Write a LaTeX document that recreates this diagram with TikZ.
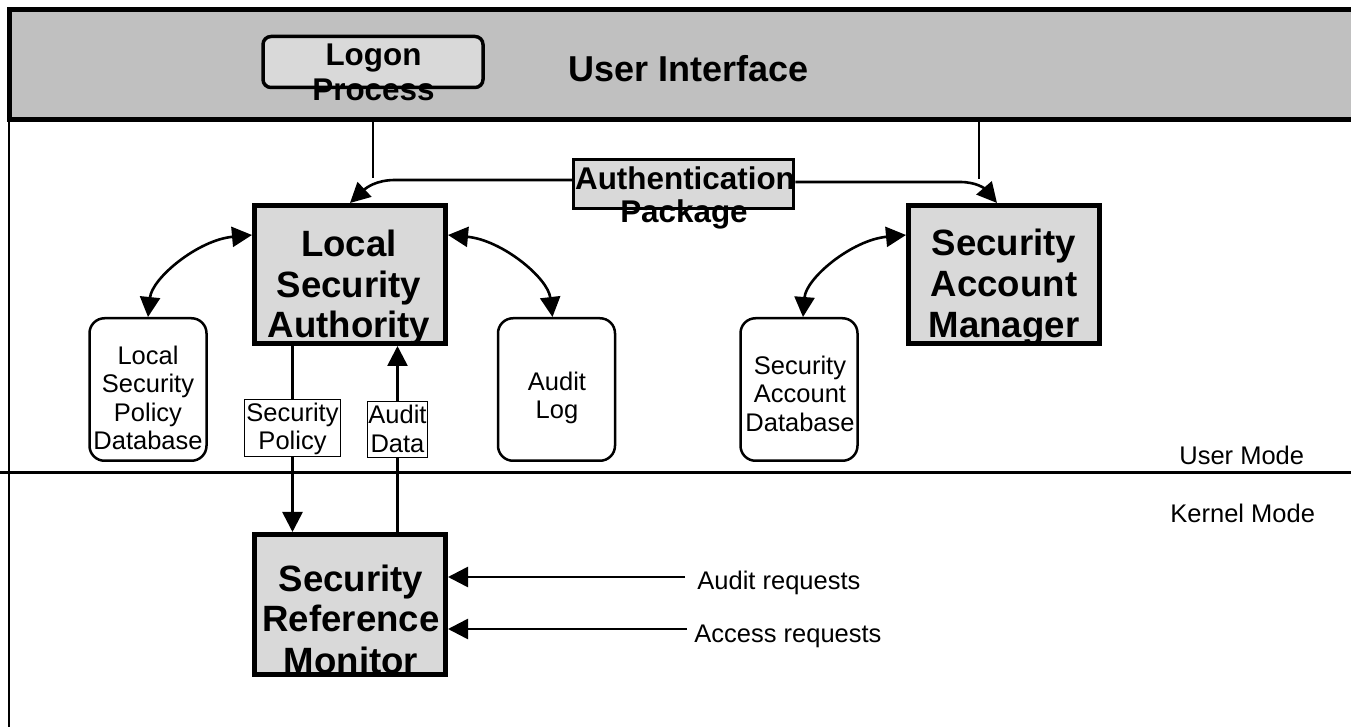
\documentclass[tikz,border=0pt]{standalone}
\usepackage{fontspec}
\setmainfont{Liberation Sans}
\usetikzlibrary{arrows.meta}
\definecolor{bandgray}{RGB}{192,192,192}
\definecolor{boxgray}{RGB}{217,217,217}
\tikzset{
  big/.style={font=\fontsize{18.3}{20}\selectfont\bfseries, inner sep=0pt, anchor=base},
  mid/.style={font=\fontsize{15.7}{17}\selectfont\bfseries, inner sep=0pt, anchor=base},
  sm/.style={font=\fontsize{12.75}{14}\selectfont, inner sep=0pt, anchor=base},
  uit/.style={font=\fontsize{18}{20}\selectfont\bfseries, inner sep=0pt, anchor=base west},
  bigbox/.style={draw, line width=2.5pt, fill=boxgray, minimum width=95.5pt, minimum height=69pt, inner sep=0pt},
  midbox/.style={draw, line width=1.75pt, fill=boxgray, minimum width=110pt, minimum height=25pt, inner sep=0pt},
  dbbox/.style={draw, line width=1.25pt, fill=white, rounded corners=7.5pt, minimum width=58.5pt, minimum height=71.25pt, inner sep=0pt},
  lblbox/.style={draw, line width=0.5pt, fill=white, inner sep=0pt},
  conn/.style={line width=1.3pt},
  arr/.style={-{Triangle[length=10pt,width=10pt]}},
  dbl/.style={{Triangle[length=10pt,width=10pt]}-{Triangle[length=10pt,width=10pt]}}
}
\begin{document}
\begin{tikzpicture}[x=0.5pt,y=-0.5pt]
\useasboundingbox (0,0) rectangle (1351,727);
\clip (0,0) rectangle (1351,727);

% frame and band
\node[draw, line width=2.2pt, fill=bandgray, minimum width=677.75pt, minimum height=55pt, inner sep=0pt] (band) at (687.25,64.5) {};
\draw[line width=1.2pt] (9,119) -- (9,740);
\draw[line width=1.5pt] (-5,473) -- (1360,473);

% boxes
\node[midbox, rounded corners=4pt, minimum height=25.5pt] (logon) at (373,62) {};
\node[midbox, minimum height=24.5pt] (auth) at (683.5,184) {};
\node[bigbox] (lsa) at (350,274.5) {};
\node[bigbox] (sam) at (1004,274.5) {};
\node[bigbox, minimum height=70pt] (srm) at (350,604.5) {};
\node[dbbox] (lpsd) at (148,389.5) {};
\node[dbbox] (alog) at (556.5,389.5) {};
\node[dbbox] (sad) at (799,389.5) {};
\node[lblbox, minimum width=48pt, minimum height=28.5pt] (splbl) at (292.5,428) {};
\node[lblbox, minimum width=30pt, minimum height=28pt] (adlbl) at (397.5,429.5) {};

% connectors from the user interface band
\coordinate (lpTop) at (logon.south |- band.south);
\coordinate (lpBot) at (373,178);
\draw[conn] (lpTop) -- (lpBot);
\coordinate (rTop) at (979,121);
\coordinate (rBot) at (979,179);
\draw[conn] (rTop) -- (rBot);

% authentication package to LSA and SAM
\draw[conn, arr] ([yshift=2pt]auth.west) -- (395,180) .. controls (376,180) and (366,188) .. (lsa.north);
\draw[conn, arr] ([yshift=1pt]auth.east) -- (960,182) .. controls (977,182) and (985,189) .. ([xshift=-3.5pt]sam.north);

% double arrows
\draw[conn, dbl] (lpsd.north) .. controls (152,278) and (198,240) .. ([yshift=19.75pt]lsa.west);
\draw[conn, dbl] ([yshift=19.75pt]lsa.east) .. controls (502,240) and (548,278) .. ([xshift=-2pt]alog.north);
\draw[conn, dbl] ([xshift=2pt]sad.north) .. controls (806,278) and (852,240) .. ([yshift=19.75pt]sam.west);

% LSA <-> SRM
\draw[conn] (lsa.south -| splbl) -- (splbl.north);
\draw[conn, arr] (splbl.south) -- (srm.north -| splbl);
\draw[conn] (srm.north -| adlbl) -- (adlbl.south);
\draw[conn, arr] (adlbl.north) -- (lsa.south -| adlbl);

% requests
\coordinate (arq) at (685,577);
\coordinate (acq) at (687,629);
\draw[conn, arr] (arq) -- (arq -| srm.east);
\draw[conn, arr] (acq) -- (acq -| srm.east);

% texts
\node[mid] (tLogon) at (373.5,66) {Logon};
\node[mid] (tProcess) at (373.5,101) {Process};
\node[uit] (tUI) at (568,82) {User Interface};
\node[mid] (tAuth) at (685,190) {Authentication};
\node[mid] (tPack) at (684,223) {Package};

\node[big] (lsa1) at (349,257) {Local};
\node[big] (lsa2) at (349,298) {Security};
\node[big] (lsa3) at (349,338) {Authority};

\node[big] (sam1) at (1004,256) {Security};
\node[big] (sam2) at (1004,297) {Account};
\node[big] (sam3) at (1004,338) {Manager};

\node[big] (srm1) at (351,591) {Security};
\node[big] (srm2) at (351,632) {Reference};
\node[big] (srm3) at (351,673) {Monitor};

\node[sm] (lp1) at (148,365) {Local};
\node[sm] (lp2) at (148,393) {Security};
\node[sm] (lp3) at (148,422) {Policy};
\node[sm] (lp4) at (148,450) {Database};

\node[sm] (al1) at (557,391) {Audit};
\node[sm] (al2) at (557,419) {Log};

\node[sm] (sd1) at (800,375) {Security};
\node[sm] (sd2) at (800,403) {Account};
\node[sm] (sd3) at (800,432) {Database};

\node[sm] (sp1) at (292.5,422) {Security};
\node[sm] (sp2) at (292.5,450) {Policy};
\node[sm] (ad1) at (397.5,424) {Audit};
\node[sm] (ad2) at (397.5,453) {Data};

\node[sm, anchor=base west] (tArq) at (697,589) {Audit requests};
\node[sm, anchor=base west] (tAcq) at (694,642) {Access requests};
\node[sm, anchor=base west] (tUM) at (1179,465) {User Mode};
\node[sm, anchor=base west] (tKM) at (1170,523) {Kernel Mode};
\end{tikzpicture}
\end{document}
